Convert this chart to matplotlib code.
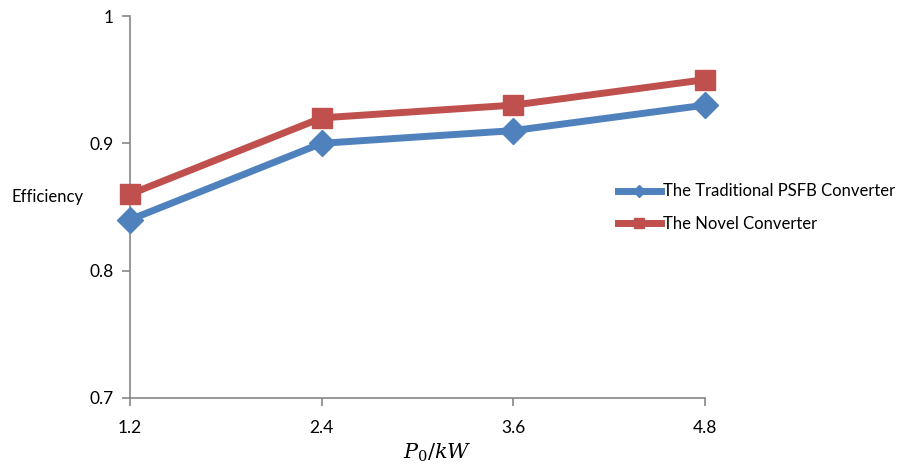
import numpy as np
import matplotlib.pyplot as plt

power = [1.2, 2.4, 3.6, 4.8]
traditional = [0.84, 0.90, 0.91, 0.93]
novel = [0.86, 0.92, 0.93, 0.95]
yticks = [0.7, 0.8, 0.9, 1.0]
ylabels = ['0.7', '0.8', '0.9', '1']

plt.rcParams['font.family'] = ['Lato', 'DejaVu Sans']
plt.rcParams['mathtext.fontset'] = 'dejavuserif'

fig = plt.figure(figsize=(9.2, 4.68), dpi=100)
ax = fig.add_axes([0.1413, 0.1496, 0.6250, 0.8162])

ax.plot(power, traditional, color='#4F81BD', lw=5, marker='D', ms=13,
        label='The Traditional PSFB Converter', zorder=3, clip_on=False)
ax.plot(power, novel, color='#C0504D', lw=5, marker='s', ms=14,
        label='The Novel Converter', zorder=3, clip_on=False)

ax.set_xlim(1.2, 4.8)
ax.set_ylim(0.7, 1.0)
ax.set_xticks(power)
ax.set_xticklabels(['1.2', '2.4', '3.6', '4.8'])
ax.set_yticks(yticks)
ax.set_yticklabels(ylabels)

for s in ['top', 'right']:
    ax.spines[s].set_visible(False)
for s in ['left', 'bottom']:
    ax.spines[s].set_color('#868686')
    ax.spines[s].set_linewidth(1.2)
ax.tick_params(colors='#868686', labelcolor='black', labelsize=12.5, length=6, width=1.2)
ax.tick_params(axis='x', pad=10)
ax.tick_params(axis='y', pad=6)

fig.text(0.013, 0.58, 'Efficiency', fontsize=12, va='center', ha='left')
fig.text(0.475, 0.008, r'$P_0/kW$', fontsize=15, ha='center', va='bottom')

leg = fig.legend(loc='upper left', bbox_to_anchor=(0.655, 0.64), frameon=False,
                 fontsize=12, handlelength=2.6, handletextpad=0.1, labelspacing=1.0,
                 markerscale=0.5)

fig.savefig('out.png', dpi=100)
